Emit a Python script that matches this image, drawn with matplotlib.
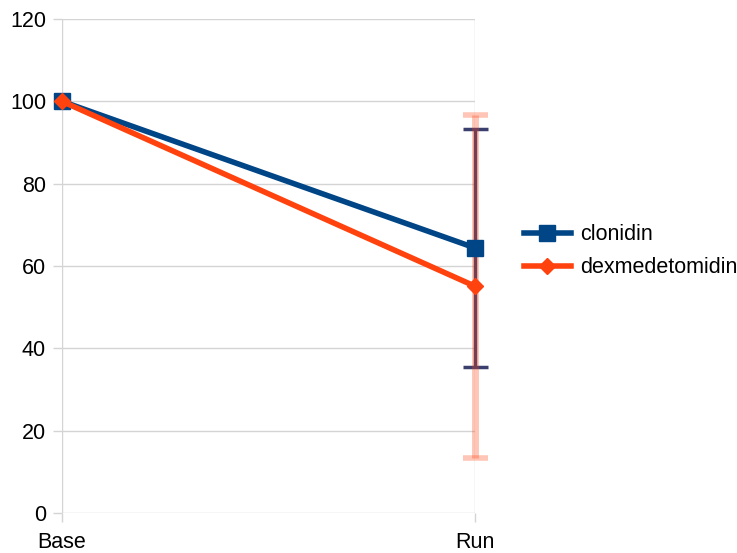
import matplotlib.pyplot as plt

# Mesures relatives (% de la base)
categories = ["Base", "Run"]
clonidin = [100, 64.4]
clonidin_err = [0, 28.9]
dexmed = [100, 55.1]
dexmed_err = [0, 41.7]

plt.rcParams['font.family'] = ['Liberation Sans', 'DejaVu Sans']

fig = plt.figure(figsize=(7.37, 5.53), dpi=100)
ax = fig.add_axes([0.0841, 0.0723, 0.5604, 0.8933])

x = range(len(categories))
bleu = '#004586'
orange = '#ff420e'

# Barres d'erreur (uniquement sur "Run")
eb1 = ax.errorbar([1], [clonidin[1]], yerr=[clonidin_err[1]], fmt='none',
                  ecolor='#3b3f6e', elinewidth=2.5, capsize=9, capthick=2.5, zorder=3)
eb2 = ax.errorbar([1], [dexmed[1]], yerr=[dexmed_err[1]], fmt='none',
                  ecolor=orange, alpha=0.3, elinewidth=5, capsize=9, capthick=4, zorder=4)
for eb in (eb1, eb2):
    for art in eb.lines[1] + eb.lines[2]:
        art.set_clip_on(False)

ax.plot(x, clonidin, color=bleu, linewidth=4, marker='s', markersize=11,
        label="clonidin", zorder=5, clip_on=False)
ax.plot(x, dexmed, color=orange, linewidth=4, marker='D', markersize=8,
        label="dexmedetomidin", zorder=6, clip_on=False)

ax.set_xlim(0, 1)
ax.set_ylim(0, 120)
ax.set_yticks(range(0, 121, 20))
ax.set_xticks(list(x))
ax.set_xticklabels(categories)

ax.grid(True, color='#d4d4d4', linewidth=1)
ax.set_axisbelow(True)
for s in ax.spines.values():
    s.set_visible(False)
ax.tick_params(axis='both', labelsize=15.5, color='#d4d4d4', length=6.5, width=1)
ax.tick_params(axis='y', pad=5)
ax.tick_params(axis='x', pad=7)

ax.legend(loc='center left', bbox_to_anchor=(1.118, 0.53), frameon=False,
          fontsize=15.5, handlelength=2.2, handletextpad=0.4,
          labelspacing=0.55, borderaxespad=0, borderpad=0)

plt.savefig("out.png", dpi=100)
